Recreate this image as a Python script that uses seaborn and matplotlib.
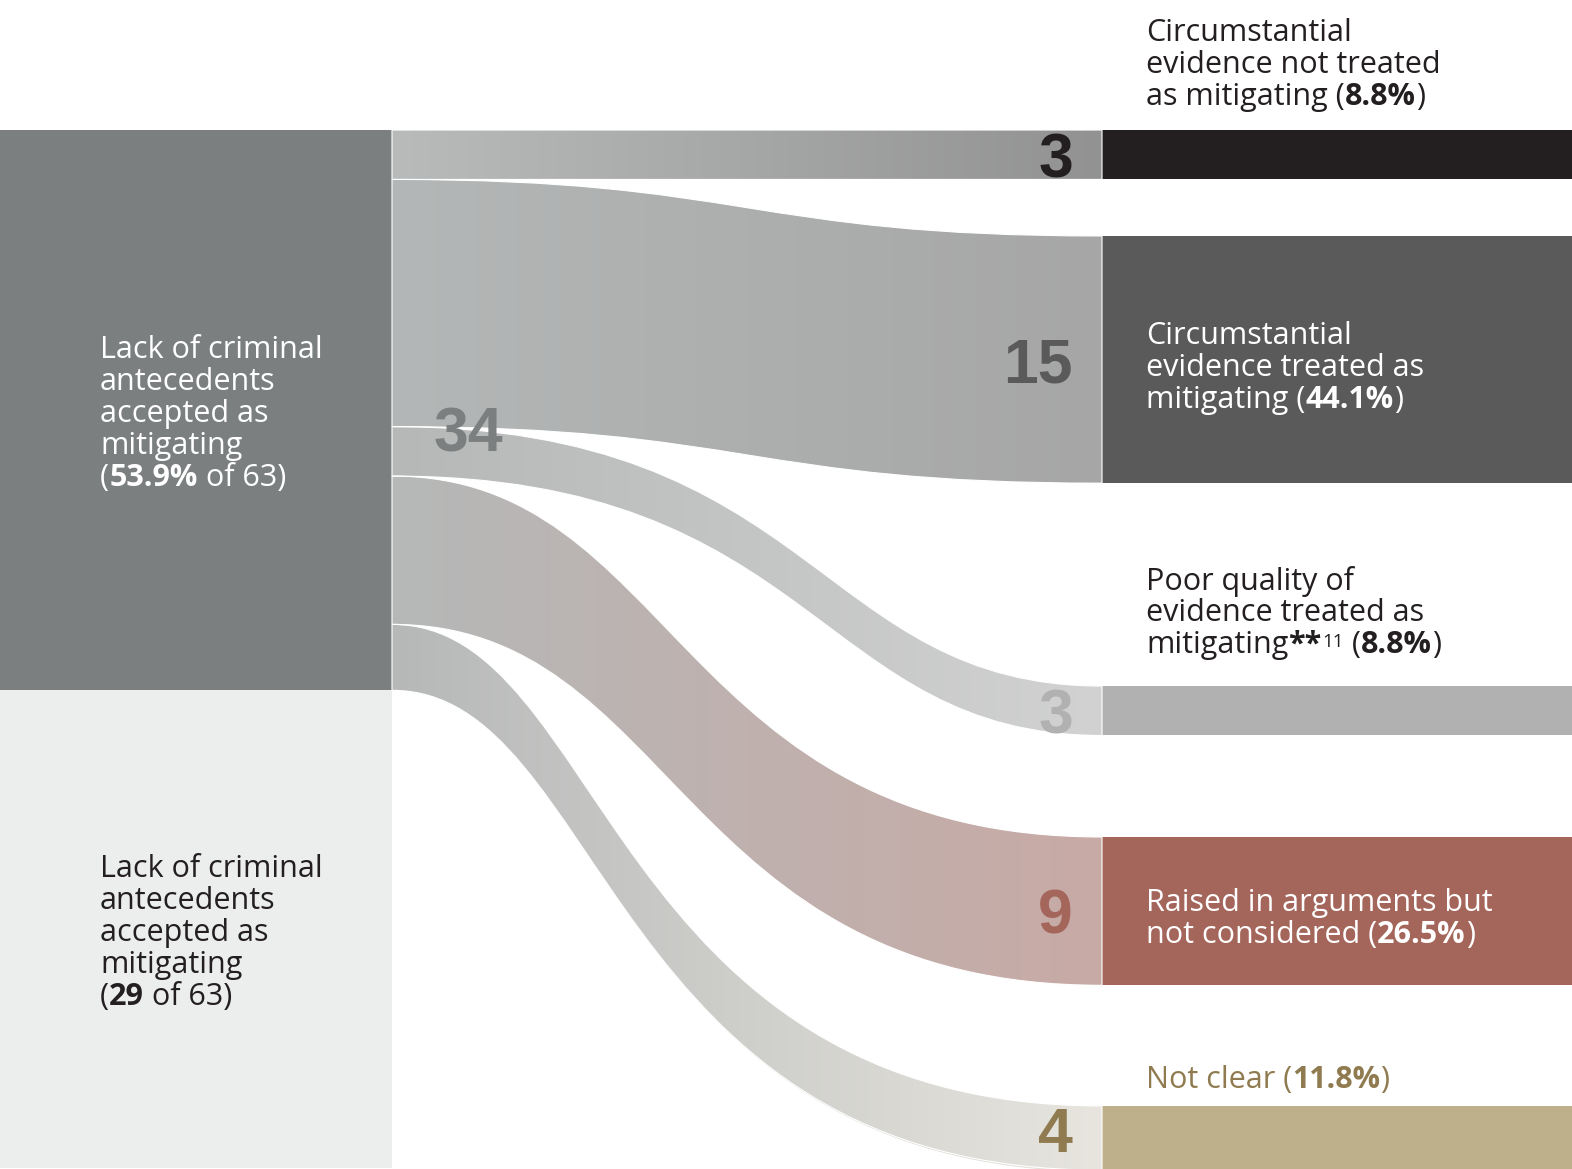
import seaborn as sns
import matplotlib.pyplot as plt
from matplotlib.path import Path
from matplotlib.patches import PathPatch
import numpy as np

sns.set_theme(style='white')
plt.rcParams['font.family'] = ['Open Sans', 'DejaVu Sans']

# ---- data -------------------------------------------------------------
left_values = [34, 29]
left_colors = ['#7b7f80', '#eceeed']
left_text_colors = ['white', '#231f20']
left_label_lines = [
    ['Lack of criminal', 'antecedents', 'accepted as', 'mitigating'],
    ['Lack of criminal', 'antecedents', 'accepted as', 'mitigating'],
]
left_label_tail = [
    [('(', 'n'), ('53.9%', 'b'), (' of 63)', 'n')],
    [('(', 'n'), ('29', 'b'), (' of 63)', 'n')],
]

# all outcomes come out of the first group (34 cases)
right_values = [3, 15, 3, 9, 4]
right_colors = ['#231f20', '#5a5a5a', '#b0b1b0', '#a4655a', '#bfb08c']
number_colors = ['#231f20', '#5a5a5a', '#b0b1b0', '#a4655a', '#8f7b4f']
right_text_colors = ['#231f20', 'white', '#231f20', 'white', '#8f7b4f']
right_label_lines = [
    ['Circumstantial', 'evidence not treated'],
    ['Circumstantial', 'evidence treated as'],
    ['Poor quality of', 'evidence treated as'],
    ['Raised in arguments but'],
    [],
]
right_label_tail = [
    [('as mitigating (', 'n'), ('8.8%', 'b'), (')', 'n')],
    [('mitigating (', 'n'), ('44.1%', 'b'), (')', 'n')],
    [('mitigating', 'n'), ('**', 'b'), ('11', 'sup'), (' (', 'n'), ('8.8%', 'b'), (')', 'n')],
    [('not considered (', 'n'), ('26.5%', 'b'), (')', 'n')],
    [('Not clear (', 'n'), ('11.8%', 'b'), (')', 'n')],
]

# ---- layout -----------------------------------------------------------
PX = 16.48                     # pixels per case
TOP = 130                      # px above the first node
FIG_W, FIG_H = 1572, 1169
LINE = 32 / PX                 # line spacing (y units)
SHIFT = 4 / PX                 # nudge text down a little
TXT = 22
NUM = 45
left_w = 392
flow_x0, flow_x1 = 392, 1102
right_gaps = [0, 3.43, 12.31, 6.16, 7.32]       # gap before each right node
right_label_pos = ['above', 'inside', 'above', 'inside', 'above']
right_label_gap = [37, 0, 45, 0, 30]            # px above node
flow_left = ['#b9bbbb', '#b4b7b7', '#b6b8b8', '#b6b8b8', '#b6b8b8']
flow_right = ['#929292', '#a6a6a6', '#d1d2d1', '#c8aaa5', '#e7e5de']
flow_curl = [0.5, 0.5, 0.6, 0.4, 0.3]
num_font = ['Liberation Sans', 'DejaVu Sans']
num_floor = (1152 - TOP) / PX   # keep the lowest number inside the picture

fig = plt.figure(figsize=(FIG_W / 100, FIG_H / 100), dpi=100)
ax = fig.add_axes([0, 0, 1, 1])
ax.axis('off')

left_tops = np.concatenate([[0], np.cumsum(left_values)[:-1]])
right_tops = []
pos = 0
for v, g in zip(right_values, right_gaps):
    pos += g
    right_tops.append(pos)
    pos += v
right_tops = np.array(right_tops)

ax.bar(0, left_values, bottom=left_tops, width=left_w, align='edge',
       color=left_colors, linewidth=0)
ax.bar(flow_x1, right_values, bottom=right_tops, width=FIG_W - flow_x1 + 10,
       align='edge', color=right_colors, linewidth=0)

# flows with horizontal gradient
src = np.concatenate([[0], np.cumsum(right_values)[:-1]])
dx = flow_x1 - flow_x0
for i, v in enumerate(right_values):
    a0, b0 = src[i], src[i] + v
    a1, b1 = right_tops[i], right_tops[i] + v
    hx = flow_x0 + flow_curl[i] * dx
    verts = [(flow_x0, a0), (hx, a0), (hx, a1), (flow_x1, a1),
             (flow_x1, b1), (hx, b1), (hx, b0), (flow_x0, b0), (flow_x0, a0)]
    codes = [Path.MOVETO, Path.CURVE4, Path.CURVE4, Path.CURVE4,
             Path.LINETO, Path.CURVE4, Path.CURVE4, Path.CURVE4, Path.CLOSEPOLY]
    path = Path(verts, codes)
    clip = PathPatch(path, transform=ax.transData, facecolor='none', edgecolor='none')
    grad = np.array(sns.blend_palette([flow_left[i], flow_right[i]], n_colors=256))[None, :, :]
    im = ax.imshow(grad, extent=(flow_x0, flow_x1, min(a0, a1), max(b0, b1)),
                   aspect='auto', origin='lower', interpolation='bilinear', zorder=2)
    im.set_clip_path(clip)
    ax.add_patch(PathPatch(path, facecolor='none', edgecolor='white', lw=0.8, zorder=3))

ax.set_xlim(0, FIG_W)
ax.set_ylim((FIG_H - TOP) / PX, -TOP / PX)


def rich_line(x, y, parts, color):
    first = prev = None
    for s, style in parts:
        kw = dict(color=color, fontsize=TXT,
                  fontweight='bold' if style == 'b' else 'normal', zorder=5)
        if first is None:
            first = prev = ax.text(x, y, s, ha='left', va='center', **kw)
        elif style == 'sup':
            kw['fontsize'] = TXT * 0.62
            prev = ax.annotate(s, xy=(1, 1), xycoords=(prev, first), xytext=(0.5, -2),
                               textcoords='offset points', ha='left', va='top', **kw)
        else:
            prev = ax.annotate(s, xy=(1, 0), xycoords=(prev, first),
                               ha='left', va='bottom', **kw)


def block(x, y_last, lines, tail, color):
    n = len(lines)
    for j, line in enumerate(lines):
        rich_line(x, y_last - (n - j) * LINE, [(line, 'n')], color)
    rich_line(x, y_last, tail, color)


for i, v in enumerate(left_values):
    n = len(left_label_lines[i]) + 1
    center = left_tops[i] + v / 2
    block(100, center + (n - 1) / 2 * LINE + SHIFT, left_label_lines[i],
          left_label_tail[i], left_text_colors[i])

for i, v in enumerate(right_values):
    n = len(right_label_lines[i]) + 1
    if right_label_pos[i] == 'inside':
        y_last = right_tops[i] + v / 2 + (n - 1) / 2 * LINE + 2 * SHIFT
    else:
        y_last = right_tops[i] - right_label_gap[i] / PX + SHIFT
    block(1146, y_last, right_label_lines[i], right_label_tail[i], right_text_colors[i])
    base = min(right_tops[i] + v / 2 + 22.5 / PX, num_floor)
    ax.text(1073, base, str(v), ha='right', va='baseline',
            fontsize=NUM, fontweight='bold', color=number_colors[i],
            family=num_font, zorder=5)

ax.text(434, 19.5, str(left_values[0]), ha='left', va='baseline', fontsize=NUM,
        fontweight='bold', color=left_colors[0], family=num_font, zorder=5)

fig.savefig('out.png', dpi=100, facecolor='white')
